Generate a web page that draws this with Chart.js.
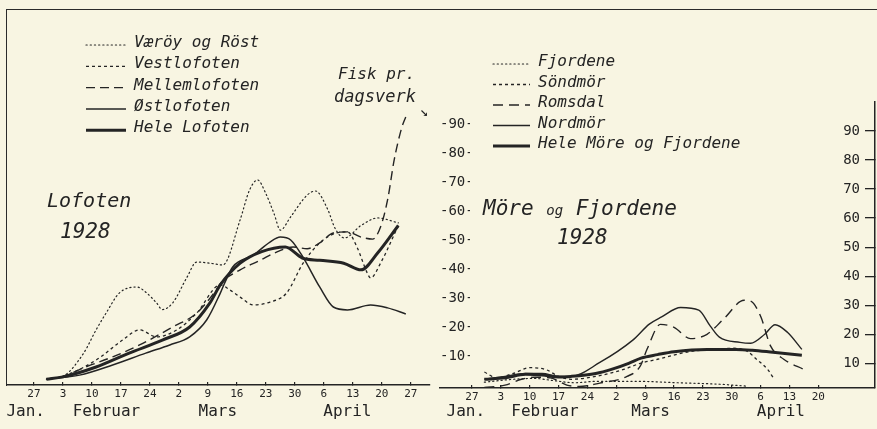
<!DOCTYPE html>
<html>
<head>
<meta charset="utf-8">
<script src="https://cdn.jsdelivr.net/npm/chart.js@4.4.0/dist/chart.umd.min.js"></script>
<style>
  html, body { margin: 0; padding: 0; }
  body {
    width: 877px; height: 429px; overflow: hidden; position: relative;
    background: #f8f5e2; color: #242424;
    font-family: "DejaVu Sans Mono", monospace;
  }
  .frame {
    position: absolute; left: 6px; top: 9px; width: 871px; height: 376px;
    border-top: 1.5px solid #2b2b2b; border-left: 1.5px solid #2b2b2b;
  }
  canvas { position: absolute; top: 0; }
  #left { left: 0; }
  #right { left: 436px; }
  .t { position: absolute; font-style: italic; white-space: nowrap; line-height: 1; }
</style>
</head>
<body>
<div class="frame"></div>
<canvas id="left" width="480" height="429"></canvas>
<canvas id="right" width="441" height="429"></canvas>

<div class="t" style="left:47px; top:190px; font-size:20px;">Lofoten</div>
<div class="t" style="left:60px; top:221px; font-size:21px;">1928</div>
<div class="t" style="left:483px; top:198px; font-size:21px;">Möre <span style="font-size:14px;">og</span> Fjordene</div>
<div class="t" style="left:557px; top:227px; font-size:21px;">1928</div>
<div class="t" style="left:338px; top:66px; font-size:16px;">Fisk pr.</div>
<div class="t" style="left:334px; top:88px; font-size:17px;">dagsverk</div>
<div class="t" style="left:420px; top:104px; font-size:14px; font-style:normal;">↘</div>

<script>
    'use strict';

    const ink = '#242424';

    // days counted from 27 January 1928 (1928 is a leap year)
    const dayTicks = [0, 7, 14, 21, 28, 35, 42, 49, 56, 63, 70, 77, 84, 91];
    const leftDayLabels = ['27', '3', '10', '17', '24', '2', '9', '16', '23', '30', '6', '13', '20', '27'];
    const rightDayTicks = [0, 7, 14, 21, 28, 35, 42, 49, 56, 63, 70, 77, 84];
    const rightDayLabels = ['27', '3', '10', '17', '24', '2', '9', '16', '23', '30', '6', '13', '20'];
    const valueTicks = [10, 20, 30, 40, 50, 60, 70, 80, 90];

    const leftMonths = ['Jan.', 'Februar', 'Mars', 'April'];
    const leftMonthDays = [-2, 17.5, 44.4, 75.7];
    const rightMonths = ['Jan.', 'Februar', 'Mars', 'April'];
    const rightMonthDays = [-1.5, 17.7, 43.3, 74.9];

    // Lofoten 1928, fisk pr. dagsverk
    const vaeroyRost = [[3, 2], [7, 3], [12, 11], [15, 19], [17.5, 25], [20.6, 31.7], [24.8, 33.8], [27, 32],
        [29.6, 28.3], [31, 26], [33.5, 28.3], [36.9, 37], [39.3, 42.4], [42.5, 42], [45.6, 41.4],
        [49.8, 57], [52, 67], [54, 70.7], [56, 66], [58, 59], [59.5, 53.4], [62, 58], [66, 65.5],
        [68, 66.9], [70.9, 60.7], [72.8, 53.8], [75, 50.7], [79, 55], [83, 57.6], [88, 55.9]];
    const vestlofoten = [[3, 2], [7, 3], [15, 8.6], [21.4, 15.5], [25.5, 19], [29.6, 16.6], [34.5, 19],
        [39.3, 24.8], [45, 34.5], [47.3, 32.8], [49.8, 30.3], [53, 27.6], [57, 28.6], [61, 31.7],
        [65, 42], [69, 49], [73, 52.4], [75.7, 52.8], [78, 47.6], [80.5, 38.6], [81.3, 36.9],
        [83.7, 42], [88, 55]];
    const mellemlofoten = [[3, 2], [7, 3], [13, 6.5], [19, 9.7], [25.5, 13.8], [33.5, 20], [39.3, 24.8],
        [44, 32.8], [45, 35], [49.8, 39.7], [54.6, 43], [58.7, 45.9], [62.6, 47.6], [66, 47],
        [69, 49], [72.3, 52.4], [75.7, 52.8], [79, 51], [81.8, 50.3], [83.7, 54.5], [85.4, 63.8],
        [87, 77.6], [88.8, 88.6], [89.8, 92.5]];
    const ostlofoten = [[3, 2], [11, 3.4], [19, 6.9], [27, 11], [32.8, 13.8], [37.6, 16.6], [41.7, 22.4],
        [45, 31.7], [46, 35], [48, 40.7], [53, 44.8], [57, 49.3], [59.5, 51], [62, 50], [65, 44],
        [69, 33.8], [72.3, 26.9], [75.7, 25.9], [81.3, 27.6], [85.4, 26.6], [89.8, 24.5]];
    const heleLofoten = [[3, 2], [7, 2.8], [15, 6.2], [23, 11], [31, 15.5], [37.6, 20], [42.5, 28.3],
        [45, 34.5], [49.8, 42], [55, 46], [60.7, 47.6], [64.8, 43.8], [69, 43], [74.8, 42],
        [79, 39.7], [83, 45.5], [88, 55]];

    // Möre og Fjordene 1928
    const fjordene = [[3, 3.5], [10, 4.5], [15, 4.8], [20, 4], [25, 3.3], [30, 3.8], [40, 3.8],
        [50, 3.3], [60, 2.8], [67, 2.1]];
    const sondmor = [[3, 7], [6, 5], [10, 6.5], [14, 8.5], [18, 7.8], [21, 5.5], [24, 4.5], [30, 5.5],
        [37, 8], [40.8, 10], [45, 11.4], [53, 14.1], [58.6, 14.8], [63.5, 15.2], [66.8, 14.1],
        [69, 11.4], [71.7, 7.9], [73, 5.2]];
    const romsdal = [[3, 1.7], [8, 2.5], [12, 4.5], [15, 5.2], [19, 5], [23, 2.5], [26, 2], [31, 3.2],
        [37.6, 5.5], [40.8, 9], [42.5, 15], [45.7, 23.4], [49, 22.4], [53, 18.5], [57, 20],
        [61, 25.2], [66, 31.7], [67.6, 31.4], [70, 26.2], [72.4, 16], [75.6, 11.4], [80.5, 7.9]];
    const nordmor = [[3, 4.5], [8, 5.5], [13, 6.5], [17, 6.5], [21, 5.5], [24, 5.5], [31, 10.3],
        [39, 18], [43, 23.5], [46, 26], [50.6, 29.2], [55, 28.3], [57.8, 22.8], [60, 19],
        [65, 17.2], [67.6, 16.9], [71, 20], [73.5, 23.3], [76.5, 20.7], [80, 14.8]];
    const heleMore = [[3, 4.5], [8, 5], [13, 6.2], [17, 6], [21, 5.3], [24, 5.5], [30, 6.5], [34, 8],
        [38, 10], [41, 11.8], [45, 13], [49, 14], [57, 14.8], [64, 14.8], [68, 14.5], [73, 13.8],
        [80, 12.8]];

    function series(label, pts, dash, width) {
        return {
            label: label,
            data: pts.map(p => ({ x: p[0], y: p[1] })),
            borderColor: ink,
            borderWidth: width,
            borderDash: dash,
            // dots need round caps, dashes stay crisp
            borderCapStyle: dash.length && dash[0] < 2 ? 'round' : 'butt',
            pointRadius: 0,
            fill: false,
            cubicInterpolationMode: 'monotone'
        };
    }

    // hand-lettered legend block, drawn from the datasets themselves
    const sketchLegend = {
        id: 'sketchLegend',
        afterDraw(chart, args, opts) {
            const ctx = chart.ctx;
            ctx.save();
            ctx.font = 'italic 16px "DejaVu Sans Mono"';
            ctx.fillStyle = ink;
            ctx.textBaseline = 'middle';
            chart.data.datasets.forEach((ds, i) => {
                const y = opts.y + i * opts.rowH;
                ctx.beginPath();
                ctx.setLineDash(ds.borderDash || []);
                ctx.lineCap = ds.borderCapStyle;
                ctx.lineWidth = ds.borderWidth;
                ctx.strokeStyle = ds.borderColor;
                ctx.moveTo(opts.x, y + 2);
                ctx.lineTo(opts.x + opts.len, y + 2);
                ctx.stroke();
                ctx.setLineDash([]);
                ctx.fillText(ds.label, opts.x + opts.len + 8, y);
            });
            ctx.restore();
        }
    };

    const monthNames = {
        id: 'monthNames',
        afterDraw(chart, args, opts) {
            const ctx = chart.ctx;
            const xs = chart.scales.x;
            ctx.save();
            ctx.font = '16px "DejaVu Sans Mono"';
            ctx.fillStyle = ink;
            ctx.textAlign = 'center';
            opts.names.forEach((name, i) => {
                ctx.fillText(name, xs.getPixelForValue(opts.days[i]), 416);
            });
            ctx.restore();
        }
    };

    function xScale(min, max, ticks, labels, height) {
        return {
            type: 'linear',
            min: min,
            max: max,
            afterFit: s => { s.height = height; },
            afterBuildTicks: s => { s.ticks = ticks.map(v => ({ value: v })); },
            grid: { drawOnChartArea: false, drawTicks: true, tickLength: -3, color: ink, lineWidth: 1.2 },
            border: { display: true, color: ink, width: 1.5 },
            ticks: {
                autoSkip: false,
                maxRotation: 0,
                padding: 6,
                color: ink,
                font: { family: 'DejaVu Sans Mono', size: 11 },
                callback: v => labels[ticks.indexOf(v)]
            }
        };
    }

    new Chart(document.getElementById('left'), {
        type: 'line',
        data: {
            datasets: [
                series('Væröy og Röst', vaeroyRost, [1.2, 3], 1.2),
                series('Vestlofoten', vestlofoten, [3, 3], 1.3),
                series('Mellemlofoten', mellemlofoten, [9, 5], 1.4),
                series('Østlofoten', ostlofoten, [], 1.5),
                series('Hele Lofoten', heleLofoten, [], 3)
            ]
        },
        options: {
            responsive: false,
            animation: false,
            events: [],
            layout: { padding: { left: 7, top: 95, right: 10, bottom: 0 } },
            plugins: {
                legend: { display: false },
                tooltip: { enabled: false },
                sketchLegend: { x: 86, y: 43, rowH: 21.3, len: 40 },
                monthNames: { names: leftMonths, days: leftMonthDays }
            },
            scales: {
                x: xScale(-6.52, 95.65, dayTicks, leftDayLabels, 44),
                y: {
                    type: 'linear',
                    position: 'right',
                    min: 0,
                    max: 100,
                    afterFit: s => { s.width = 40; },
                    afterBuildTicks: s => { s.ticks = valueTicks.map(v => ({ value: v })); },
                    grid: { display: false },
                    border: { display: false },
                    ticks: {
                        padding: 2,
                        color: ink,
                        font: { family: 'DejaVu Sans Mono', size: 14 },
                        callback: v => '-' + v + '-'
                    }
                }
            }
        },
        plugins: [sketchLegend, monthNames]
    });

    new Chart(document.getElementById('right'), {
        type: 'line',
        data: {
            datasets: [
                series('Fjordene', fjordene, [1.2, 3], 1.2),
                series('Söndmör', sondmor, [3, 3], 1.3),
                series('Romsdal', romsdal, [10, 6], 1.4),
                series('Nordmör', nordmor, [], 1.4),
                series('Hele Möre og Fjordene', heleMore, [], 3)
            ]
        },
        options: {
            responsive: false,
            animation: false,
            events: [],
            layout: { padding: { left: 4, top: 102, right: 2, bottom: 0 } },
            plugins: {
                legend: { display: false },
                tooltip: { enabled: false },
                sketchLegend: { x: 57, y: 62, rowH: 20.5, len: 37 },
                monthNames: { names: rightMonths, days: rightMonthDays }
            },
            scales: {
                x: xScale(-7.76, 97.74, rightDayTicks, rightDayLabels, 41),
                y: {
                    type: 'linear',
                    position: 'right',
                    min: 1.5,
                    max: 100,
                    afterFit: s => { s.width = 0; },
                    afterBuildTicks: s => { s.ticks = valueTicks.map(v => ({ value: v })); },
                    // tick dashes point inwards, numbers sit left of them
                    grid: { display: true, drawOnChartArea: false, drawTicks: true, tickLength: -10, color: ink, lineWidth: 1.3 },
                    border: { display: true, color: ink, width: 1.5 },
                    ticks: {
                        mirror: true,
                        padding: -15,
                        color: ink,
                        font: { family: 'DejaVu Sans Mono', size: 14 },
                        callback: v => String(v)
                    }
                }
            }
        },
        plugins: [sketchLegend, monthNames]
    });
</script>
</body>
</html>
